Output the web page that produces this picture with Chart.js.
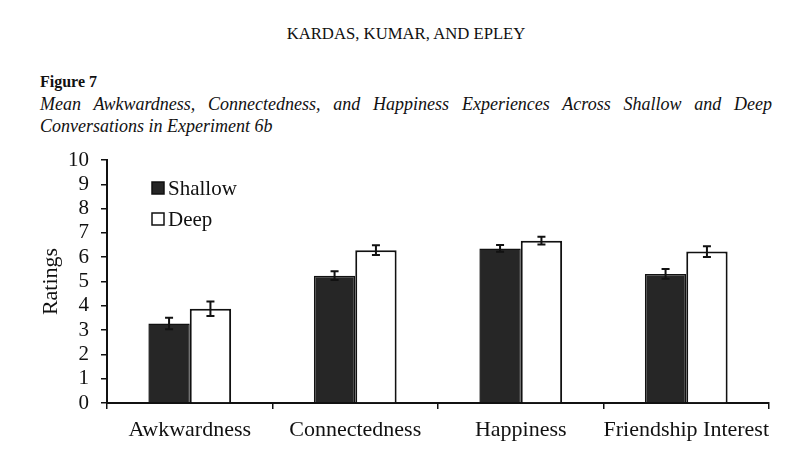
<!DOCTYPE html>
<html>
<head>
<meta charset="utf-8">
<script src="https://cdn.jsdelivr.net/npm/chart.js@4"></script>
<style>
  html, body { margin: 0; padding: 0; background: #fff; }
  body { width: 812px; height: 458px; position: relative; overflow: hidden;
         font-family: "Liberation Serif", "Times New Roman", serif; color: #111; }
  .runhead { position: absolute; top: 24px; left: 0; width: 812px; text-align: center; font-size: 16.7px; }
  .figno { position: absolute; top: 73px; left: 40px; font-size: 16px; font-weight: bold; }
  .cap { position: absolute; left: 40px; width: 732px; font-size: 18px; font-style: italic; }
  .cap1 { top: 94px; text-align: justify; text-align-last: justify; }
  .cap2 { top: 116px; }
  #wrap { position: absolute; left: 0; top: 0; width: 812px; height: 458px; }
</style>
</head>
<body>
<div class="runhead">KARDAS, KUMAR, AND EPLEY</div>
<div class="figno">Figure 7</div>
<div class="cap cap1">Mean Awkwardness, Connectedness, and Happiness Experiences Across Shallow and Deep</div>
<div class="cap cap2">Conversations in Experiment 6b</div>
<div id="wrap"><canvas id="myChart"></canvas></div>

<script>
const categories = ['Awkwardness', 'Connectedness', 'Happiness', 'Friendship Interest'];
const seriesNames = ['Shallow', 'Deep'];
const shallowMeans = [3.27, 5.24, 6.36, 5.31];
const deepMeans = [3.88, 6.29, 6.68, 6.23];
const shallowErr = [0.24, 0.18, 0.14, 0.2];
const deepErr = [0.3, 0.2, 0.16, 0.22];
const yTicks = [0, 1, 2, 3, 4, 5, 6, 7, 8, 9, 10];

const serif = '"Liberation Serif", "Times New Roman", serif';
const errors = [shallowErr, deepErr];

// error bars on top of each bar
const errorBars = {
    id: 'errorBars',
    afterDatasetsDraw(chart) {
        const ctx = chart.ctx;
        const yScale = chart.scales.y;
        ctx.save();
        ctx.strokeStyle = '#111';
        ctx.lineWidth = 2;
        chart.data.datasets.forEach((ds, i) => {
            const meta = chart.getDatasetMeta(i);
            meta.data.forEach((bar, j) => {
                const v = ds.data[j];
                const e = errors[i][j];
                const yHi = yScale.getPixelForValue(v + e);
                const yLo = yScale.getPixelForValue(v - e);
                ctx.beginPath();
                ctx.moveTo(bar.x, yHi); ctx.lineTo(bar.x, yLo);
                ctx.moveTo(bar.x - 4, yHi); ctx.lineTo(bar.x + 4, yHi);
                ctx.moveTo(bar.x - 4, yLo); ctx.lineTo(bar.x + 4, yLo);
                ctx.stroke();
            });
        });
        ctx.restore();
    }
};

// legend drawn inside the plot, top left
const innerLegend = {
    id: 'innerLegend',
    afterDraw(chart) {
        const ctx = chart.ctx;
        const area = chart.chartArea;
        ctx.save();
        ctx.font = '21px ' + serif;
        ctx.textBaseline = 'middle';
        chart.data.datasets.forEach((ds, i) => {
            const bx = area.left + 45;
            const by = area.top + 22 + i * 31;
            ctx.fillStyle = ds.backgroundColor;
            ctx.fillRect(bx, by, 12, 12);
            ctx.strokeStyle = '#111';
            ctx.lineWidth = 1.5;
            ctx.strokeRect(bx, by, 12, 12);
            ctx.fillStyle = '#111';
            ctx.fillText(ds.label, bx + 16, by + 7);
        });
        ctx.restore();
    }
};

const myChart = new Chart(document.getElementById('myChart'), {
    type: 'bar',
    data: {
        labels: categories,
        datasets: [{
            label: seriesNames[0],
            data: shallowMeans,
            backgroundColor: '#262626',
            borderColor: '#111',
            borderWidth: 1.5
        }, {
            label: seriesNames[1],
            data: deepMeans,
            backgroundColor: '#ffffff',
            borderColor: '#111',
            borderWidth: 2
        }]
    },
    options: {
        responsive: true,
        maintainAspectRatio: false,
        animation: false,
        categoryPercentage: 0.5,
        barPercentage: 1.0,
        layout: { padding: { top: 160, right: 43, bottom: 0, left: 0 } },
        plugins: {
            legend: { display: false },
            tooltip: { enabled: false }
        },
        scales: {
            x: {
                offset: true,
                afterFit: (scale) => { scale.height = 55; },
                grid: { offset: true, drawOnChartArea: false, drawTicks: true, tickLength: 6, color: '#111', lineWidth: 1.5 },
                border: { color: '#111', width: 2 },
                ticks: { color: '#111', font: { family: serif, size: 22 }, padding: 8, maxRotation: 0, minRotation: 0, autoSkip: false }
            },
            y: {
                min: 0,
                max: 10,
                afterFit: (scale) => { scale.width = 107; },
                afterBuildTicks: (scale) => { scale.ticks = yTicks.map(v => ({ value: v })); },
                grid: { drawOnChartArea: false, drawTicks: true, tickLength: 6, color: '#111', lineWidth: 1.5 },
                border: { color: '#111', width: 2 },
                ticks: { color: '#111', font: { family: serif, size: 21 }, padding: 12, autoSkip: false, stepSize: 1 },
                title: { display: true, text: 'Ratings', color: '#111', font: { family: serif, size: 22 }, padding: { top: 38, bottom: 0 } }
            }
        }
    },
    plugins: [errorBars, innerLegend]
});
</script>
</body>
</html>
